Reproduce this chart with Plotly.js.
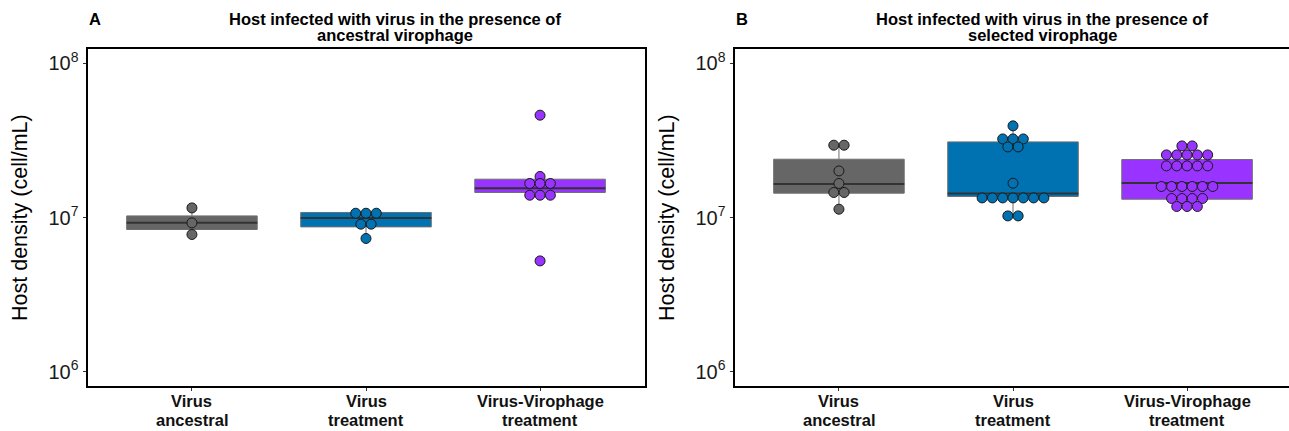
<!DOCTYPE html>
<html>
<head>
<meta charset="utf-8">
<script src="https://cdn.plot.ly/plotly-3.0.1.min.js"></script>
<style>
html,body{margin:0;padding:0;overflow:hidden;background:#fff;}
#chart{width:1296px;height:431px;}
</style>
</head>
<body>
<div id="chart"></div>
<script>
// ---------- data ----------
var categories = [['Virus', 'ancestral'], ['Virus', 'treatment'], ['Virus-Virophage', 'treatment']];
var tickVals = [1e6, 1e7, 1e8];
var tickLabels = ['10<sup>6</sup>', '10<sup>7</sup>', '10<sup>8</sup>'];
var colors = ['#666666', '#0072B2', '#9933FF'];

// Panel A: ancestral virophage (dot values, binned)
var ancA = [1.154e7, 9.23e6, 7.76e6];
var virA = [1.066e7, 1.066e7, 1.066e7, 9.05e6, 9.05e6, 7.31e6];
var vvA  = [4.61e7, 1.845e7, 1.662e7, 1.662e7, 1.662e7, 1.395e7, 1.395e7, 1.395e7, 5.23e6];
// Panel A box statistics
var q1A = [8.36e6, 8.69e6, 1.453e7];
var medA = [9.23e6, 9.94e6, 1.549e7];
var q3A = [1.024e7, 1.078e7, 1.772e7];
var loA = [7.76e6, 7.31e6, 1.395e7];
var hiA = [1.154e7, 1.078e7, 1.845e7];

// Panel B: selected virophage (dot values, binned)
var ancB = [2.944e7, 2.944e7, 2.005e7, 1.662e7, 1.453e7, 1.453e7, 1.132e7];
var virB = [3.93e7, 3.234e7, 3.234e7, 3.234e7, 2.87e7, 2.87e7, 1.669e7,
            1.34e7, 1.34e7, 1.34e7, 1.34e7, 1.34e7, 1.34e7, 1.34e7, 1.024e7, 1.024e7];
var vvB  = [2.913e7, 2.913e7,
            2.547e7, 2.547e7, 2.547e7, 2.547e7, 2.547e7,
            2.161e7, 2.161e7, 2.161e7, 2.161e7, 2.161e7,
            1.589e7, 1.589e7, 1.589e7, 1.589e7, 1.589e7, 1.589e7,
            1.328e7, 1.328e7, 1.328e7, 1.328e7,
            1.179e7, 1.179e7, 1.179e7];
// Panel B box statistics
var q1B = [1.438e7, 1.369e7, 1.314e7];
var medB = [1.652e7, 1.431e7, 1.677e7];
var q3B = [2.388e7, 3.093e7, 2.377e7];
var loB = [1.132e7, 1.024e7, 1.179e7];
var hiB = [2.944e7, 3.93e7, 2.913e7];

var titleA = ['Host infected with virus in the presence of', 'ancestral virophage'];
var titleB = ['Host infected with virus in the presence of', 'selected virophage'];
var yTitle = 'Host density (cell/mL)';

// ---------- layout geometry ----------
var W = 1296, H = 431;
var panelPx = [[87.5, 644.5], [734.5, 1291.5]];
var topPx = 49, botPx = 386;
var xRange = [-0.6, 2.6];
var dotPx = 10.3;
var FONT = 'Liberation Sans, Arial, Helvetica, sans-serif';

function dotTrace(vals, idx, xa, ya, panelWidthPx) {
  var unit = dotPx * (xRange[1] - xRange[0]) / panelWidthPx;
  var counts = {}, order = [];
  vals.forEach(function (v) { if (!(v in counts)) { counts[v] = 0; order.push(v); } counts[v]++; });
  var xs = [], ys = [];
  order.forEach(function (v) {
    var n = counts[v];
    for (var k = 0; k < n; k++) { xs.push(idx + (k - (n - 1) / 2) * unit); ys.push(v); }
  });
  return {
    type: 'scatter', mode: 'markers', x: xs, y: ys, xaxis: xa, yaxis: ya,
    marker: {size: 10, color: colors[idx], line: {color: '#1a1a1a', width: 1}},
    hoverinfo: 'y', showlegend: false
  };
}

function boxTrace(idx, q1, med, q3, lo, hi, xa, ya) {
  return {
    type: 'box', x: [idx], q1: [q1[idx]], median: [med[idx]], q3: [q3[idx]],
    lowerfence: [lo[idx]], upperfence: [hi[idx]],
    width: 0.75, whiskerwidth: 0, fillcolor: colors[idx], line: {color: '#6f6f6f', width: 1},
    xaxis: xa, yaxis: ya, showlegend: false, hoverinfo: 'skip'
  };
}
function medianTrace(med, xa, ya) {
  return {
    type: 'box', x: [0, 1, 2], q1: med, median: med, q3: med, lowerfence: med, upperfence: med,
    width: 0.75, whiskerwidth: 0, fillcolor: 'rgba(0,0,0,0)', line: {color: '#333333', width: 2},
    xaxis: xa, yaxis: ya, showlegend: false, hoverinfo: 'skip'
  };
}

var traces = [];
[0, 1, 2].forEach(function (i) { traces.push(boxTrace(i, q1A, medA, q3A, loA, hiA, 'x', 'y')); });
traces.push(medianTrace(medA, 'x', 'y'));
[0, 1, 2].forEach(function (i) { traces.push(boxTrace(i, q1B, medB, q3B, loB, hiB, 'x2', 'y2')); });
traces.push(medianTrace(medB, 'x2', 'y2'));
var wA = panelPx[0][1] - panelPx[0][0], wB = panelPx[1][1] - panelPx[1][0];
traces.push(dotTrace(ancA, 0, 'x', 'y', wA));
traces.push(dotTrace(virA, 1, 'x', 'y', wA));
traces.push(dotTrace(vvA, 2, 'x', 'y', wA));
traces.push(dotTrace(ancB, 0, 'x2', 'y2', wB));
traces.push(dotTrace(virB, 1, 'x2', 'y2', wB));
traces.push(dotTrace(vvB, 2, 'x2', 'y2', wB));

var yDom = [(H - botPx) / H, (H - topPx) / H];
function xAxis(p, anchor) {
  return {
    domain: [panelPx[p][0] / W, panelPx[p][1] / W], anchor: anchor,
    range: xRange, tickvals: [0, 1, 2], showticklabels: false,
    ticks: 'outside', ticklen: 3, tickcolor: '#333333', tickwidth: 1,
    showline: true, mirror: true, linecolor: '#000000', linewidth: 2,
    showgrid: false, zeroline: false, fixedrange: true
  };
}
function yAxis(anchor) {
  return {
    domain: yDom, anchor: anchor, type: 'log', range: [5.907, 8.093],
    tickvals: tickVals, ticktext: tickLabels,
    tickfont: {family: FONT, size: 20, color: '#1a1a1a'},
    ticks: 'outside', ticklen: 3, tickcolor: '#333333', tickwidth: 1,
    showline: true, mirror: true, linecolor: '#000000', linewidth: 2,
    showgrid: false, zeroline: false, fixedrange: true
  };
}

function pp(xp, yp) { return {x: xp / W, y: 1 - yp / H}; }
var annotations = [];
function addPaperText(text, xp, yp, opts) {
  var p = pp(xp, yp);
  var a = {text: text, x: p.x, y: p.y, xref: 'paper', yref: 'paper', showarrow: false,
           xanchor: 'center', yanchor: 'middle',
           font: {family: FONT, size: 16.5, color: '#000000', weight: 'bold'}};
  for (var k in opts) a[k] = opts[k];
  annotations.push(a);
}
// category labels placed at the category positions of each x axis
function addCategoryLabels(xref) {
  categories.forEach(function (c, i) {
    [[c[0], 401], [c[1], 419.5]].forEach(function (line) {
      annotations.push({text: '<b>' + line[0] + '</b>', x: i, xref: xref,
        y: 1 - line[1] / H, yref: 'paper', showarrow: false,
        xanchor: 'center', yanchor: 'middle',
        font: {family: FONT, size: 16.5, color: '#111111', weight: 'bold'}});
    });
  });
}
addCategoryLabels('x');
addCategoryLabels('x2');

var shift = panelPx[1][0] - panelPx[0][0];
[[titleA, 'A', 0], [titleB, 'B', shift]].forEach(function (t) {
  addPaperText('<b>' + t[0][0] + '</b>', 395 + t[2], 18.5, {});
  addPaperText('<b>' + t[0][1] + '</b>', 395 + t[2], 35.5, {});
  addPaperText('<b>' + t[1] + '</b>', 87 + t[2], 18.5, {xanchor: 'left'});
  addPaperText(yTitle, 20 + t[2], 218, {textangle: -90,
    font: {family: FONT, size: 21.5, color: '#000000'}});
});

var layout = {
  width: W, height: H, margin: {l: 0, r: 0, t: 0, b: 0},
  paper_bgcolor: '#ffffff', plot_bgcolor: '#ffffff',
  boxmode: 'overlay', showlegend: false,
  xaxis: xAxis(0, 'y'), yaxis: yAxis('x'),
  xaxis2: xAxis(1, 'y2'), yaxis2: yAxis('x2'),
  annotations: annotations,
  font: {family: FONT}
};

Plotly.newPlot('chart', traces, layout, {displayModeBar: false, staticPlot: true});
</script>
</body>
</html>
